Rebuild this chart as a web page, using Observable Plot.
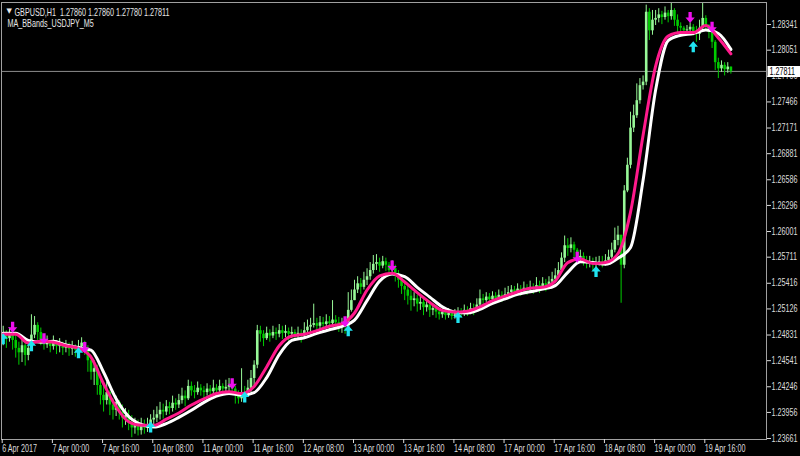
<!DOCTYPE html>
<html><head><meta charset="utf-8">
<script src="https://cdn.jsdelivr.net/npm/d3@7"></script>
<script src="https://cdn.jsdelivr.net/npm/@observablehq/plot@0.6"></script>
<style>
html,body{margin:0;padding:0;background:#000;}
#chart{width:800px;height:456px;overflow:hidden;}
</style></head><body><div id="chart"></div>
<script>
// ---- data (GBPUSD H1, bar 0 = 6 Apr 2017 08:00) ----
const symbolName = "GBPUSD,H1";
const indicatorName = "MA_BBands_USDJPY_M5";
const firstOpen = 1.2480;
const closes = [
1.2483,1.2479,1.2486,1.2477,1.2468,1.2463,1.2471,1.2460,1.2468,1.2483,1.2494,1.2486,1.2477,1.2472,1.2475,1.2470,
1.2474,1.2470,1.2472,1.2468,1.2471,1.2467,1.2469,1.2466,1.2470,1.2474,1.2468,1.2454,1.2441,1.2445,1.2426,1.2415,
1.2409,1.2418,1.2404,1.2398,1.2407,1.2396,1.2389,1.2392,1.2384,1.2378,1.2381,1.2375,1.2380,1.2378,1.2382,1.2387,
1.2389,1.2393,1.2398,1.2396,1.2402,1.2400,1.2406,1.2404,1.2409,1.2414,1.2411,1.2425,1.2420,1.2418,1.2423,1.2420,
1.2418,1.2422,1.2419,1.2423,1.2420,1.2425,1.2422,1.2424,1.2426,1.2422,1.2415,1.2411,1.2418,1.2416,1.2423,1.2434,
1.2449,1.2488,1.2484,1.2479,1.2485,1.2482,1.2486,1.2484,1.2488,1.2485,1.2487,1.2484,1.2486,1.2483,1.2485,1.2482,
1.2488,1.2492,1.2494,1.2496,1.2493,1.2497,1.2495,1.2498,1.2496,1.2500,1.2497,1.2493,1.2494,1.2492,1.2511,1.2522,
1.2534,1.2541,1.2537,1.2545,1.2549,1.2556,1.2563,1.2565,1.2561,1.2566,1.2562,1.2556,1.2558,1.2550,1.2545,1.2538,
1.2534,1.2527,1.2522,1.2524,1.2518,1.2520,1.2514,1.2517,1.2511,1.2513,1.2509,1.2506,1.2509,1.2505,1.2508,1.2504,
1.2506,1.2509,1.2508,1.2511,1.2510,1.2513,1.2512,1.2517,1.2524,1.2522,1.2526,1.2523,1.2527,1.2524,1.2528,1.2526,
1.2529,1.2531,1.2534,1.2531,1.2535,1.2532,1.2536,1.2534,1.2537,1.2535,1.2539,1.2537,1.2541,1.2539,1.2543,1.2546,
1.2550,1.2556,1.2570,1.2584,1.2581,1.2585,1.2579,1.2570,1.2572,1.2567,1.2564,1.2565,1.2562,1.2564,1.2566,1.2565,
1.2567,1.2571,1.2579,1.2590,1.2596,1.2562,1.2646,1.2675,1.2717,1.2731,1.2748,1.2765,1.2769,1.2848,1.2827,1.2839,
1.2841,1.2845,1.2842,1.2847,1.2843,1.2850,1.2839,1.2832,1.2830,1.2827,1.2828,1.2831,1.2826,1.2823,1.2830,1.2841,
1.2833,1.2825,1.2814,1.2791,1.2784,1.2788,1.2783,1.2786,1.27811];
const highs = [
1.2493,1.2488,1.2491,1.2488,1.2483,1.2475,1.2479,1.2477,1.2472,1.2506,1.2504,1.2497,1.2491,1.2482,1.2482,1.2477,
1.2482,1.2477,1.2479,1.2475,1.2477,1.2474,1.2476,1.2472,1.2477,1.2480,1.2476,1.2471,1.2460,1.2454,1.2449,1.2432,
1.2426,1.2430,1.2420,1.2411,1.2414,1.2409,1.2404,1.2400,1.2398,1.2392,1.2389,1.2387,1.2389,1.2387,1.2389,1.2393,
1.2398,1.2402,1.2407,1.2405,1.2409,1.2407,1.2414,1.2411,1.2416,1.2423,1.2420,1.2432,1.2430,1.2426,1.2430,1.2427,
1.2425,1.2428,1.2426,1.2432,1.2427,1.2432,1.2428,1.2432,1.2434,1.2428,1.2425,1.2420,1.2445,1.2425,1.2432,1.2443,
1.2454,1.2494,1.2493,1.2488,1.2492,1.2489,1.2493,1.2491,1.2495,1.2493,1.2494,1.2491,1.2492,1.2489,1.2492,1.2489,
1.2497,1.2500,1.2502,1.2518,1.2502,1.2504,1.2503,1.2506,1.2504,1.2522,1.2505,1.2503,1.2502,1.2500,1.2531,1.2534,
1.2545,1.2549,1.2547,1.2554,1.2558,1.2565,1.2573,1.2574,1.2570,1.2572,1.2570,1.2565,1.2567,1.2562,1.2556,1.2547,
1.2545,1.2539,1.2534,1.2531,1.2528,1.2527,1.2524,1.2522,1.2520,1.2518,1.2517,1.2513,1.2514,1.2512,1.2513,1.2511,
1.2512,1.2514,1.2513,1.2517,1.2515,1.2519,1.2518,1.2524,1.2534,1.2529,1.2531,1.2530,1.2532,1.2531,1.2534,1.2532,
1.2536,1.2538,1.2539,1.2538,1.2541,1.2539,1.2543,1.2540,1.2544,1.2541,1.2548,1.2544,1.2548,1.2546,1.2549,1.2554,
1.2558,1.2565,1.2576,1.2595,1.2592,1.2593,1.2588,1.2581,1.2579,1.2576,1.2572,1.2572,1.2570,1.2571,1.2572,1.2572,
1.2574,1.2579,1.2587,1.2604,1.2606,1.2590,1.2652,1.2683,1.2735,1.2743,1.2767,1.2773,1.2776,1.2856,1.2852,1.2850,
1.2850,1.2852,1.2849,1.2854,1.2850,1.2859,1.2852,1.2845,1.2836,1.2832,1.2833,1.2836,1.2834,1.2832,1.2839,1.2858,
1.2844,1.2834,1.2827,1.2816,1.2796,1.2793,1.2791,1.2791,1.2786];
const lows = [
1.2471,1.2468,1.2475,1.2466,1.2457,1.2449,1.2452,1.2448,1.2454,1.2466,1.2479,1.2477,1.2471,1.2466,1.2468,1.2463,
1.2466,1.2461,1.2463,1.2460,1.2463,1.2459,1.2460,1.2458,1.2462,1.2466,1.2460,1.2441,1.2432,1.2426,1.2415,1.2404,
1.2396,1.2404,1.2392,1.2387,1.2391,1.2387,1.2378,1.2381,1.2375,1.2367,1.2371,1.2369,1.2370,1.2371,1.2373,1.2378,
1.2380,1.2384,1.2387,1.2388,1.2392,1.2393,1.2396,1.2398,1.2400,1.2405,1.2402,1.2409,1.2414,1.2411,1.2415,1.2414,
1.2411,1.2414,1.2413,1.2415,1.2414,1.2416,1.2414,1.2417,1.2418,1.2415,1.2405,1.2405,1.2407,1.2408,1.2414,1.2418,
1.2426,1.2445,1.2475,1.2470,1.2477,1.2475,1.2479,1.2477,1.2480,1.2478,1.2480,1.2476,1.2479,1.2477,1.2478,1.2474,
1.2479,1.2485,1.2486,1.2491,1.2486,1.2488,1.2488,1.2491,1.2489,1.2493,1.2491,1.2486,1.2485,1.2484,1.2488,1.2509,
1.2522,1.2530,1.2529,1.2534,1.2539,1.2545,1.2552,1.2556,1.2554,1.2558,1.2555,1.2549,1.2552,1.2543,1.2536,1.2529,
1.2522,1.2517,1.2510,1.2515,1.2509,1.2511,1.2505,1.2509,1.2503,1.2505,1.2502,1.2500,1.2502,1.2500,1.2502,1.2500,
1.2501,1.2503,1.2502,1.2504,1.2504,1.2506,1.2505,1.2510,1.2513,1.2517,1.2520,1.2518,1.2521,1.2519,1.2522,1.2520,
1.2522,1.2524,1.2527,1.2526,1.2528,1.2527,1.2529,1.2528,1.2530,1.2529,1.2531,1.2530,1.2534,1.2532,1.2536,1.2539,
1.2543,1.2547,1.2554,1.2565,1.2572,1.2576,1.2570,1.2563,1.2565,1.2561,1.2558,1.2559,1.2556,1.2556,1.2561,1.2559,
1.2561,1.2563,1.2569,1.2576,1.2584,1.2519,1.2558,1.2644,1.2671,1.2712,1.2728,1.2744,1.2760,1.2765,1.2816,1.2822,
1.2833,1.2836,1.2834,1.2839,1.2836,1.2839,1.2832,1.2825,1.2824,1.2823,1.2824,1.2825,1.2821,1.2814,1.2816,1.2827,
1.2827,1.2818,1.2807,1.2782,1.2773,1.2780,1.2776,1.2779,1.2778];

// moving averages, read every 4th bar
const maPink = [1.2484,1.2484,1.2474,1.2476,1.2475,1.2471,1.2468,1.2458,1.2428,1.2402,
1.2385,1.2381,1.2381,1.2388,1.2395,1.2404,1.2411,1.2417,1.2419,1.2417,
1.2425,1.2447,1.2471,1.2482,1.2484,1.2488,1.2493,1.2496,1.2508,1.2534,
1.2550,1.2553,1.2543,1.2531,1.2520,1.2511,1.2509,1.2510,1.2515,1.2522,
1.2527,1.2532,1.2536,1.2537,1.2544,1.2565,1.2569,1.2564,1.2565,1.2575,
1.2622,1.2709,1.2787,1.2821,1.2825,1.2825,1.2833,1.2819,1.2801];
const maWhite = [1.2485,1.2485,1.2477,1.2475,1.2476,1.2472,1.2469,1.2466,1.2441,1.2411,
1.2391,1.2382,1.2379,1.2383,1.2390,1.2398,1.2407,1.2414,1.2417,1.2415,
1.2418,1.2435,1.2461,1.2477,1.2480,1.2485,1.2489,1.2493,1.2500,1.2522,
1.2544,1.2552,1.2549,1.2537,1.2526,1.2515,1.2509,1.2508,1.2512,1.2519,
1.2524,1.2529,1.2532,1.2535,1.2539,1.2554,1.2566,1.2565,1.2563,1.2570,
1.2582,1.2658,1.2760,1.2816,1.2822,1.2824,1.2828,1.2824,1.2806];

// signal arrows
const sellBars = [3, 13, 26, 73, 109, 124, 183, 219, 226];
const sellPrices = [1.2492, 1.2479, 1.2469, 1.2428, 1.2498, 1.2561, 1.2571, 1.2842, 1.2831];
const buyBars = [0, 9, 24, 47, 77, 110, 145, 189, 220];
const buyPrices = [1.2479, 1.2471, 1.2463, 1.2379, 1.2413, 1.2488, 1.2503, 1.2555, 1.2809];

// axes
const labelBars = [0,16,32,48,64,80,96,112,128,144,160,176,192,208,224];
const timeLabels = ["6 Apr 2017","7 Apr 00:00","7 Apr 16:00","10 Apr 08:00","11 Apr 00:00","11 Apr 16:00",
"12 Apr 08:00","13 Apr 00:00","13 Apr 16:00","14 Apr 08:00","17 Apr 00:00","17 Apr 16:00","18 Apr 08:00",
"19 Apr 00:00","19 Apr 16:00"];
const priceTicks = [1.28341,1.28051,1.27756,1.27466,1.27171,1.26881,1.26586,1.26296,1.26001,1.25711,
1.25416,1.25126,1.24831,1.24541,1.24246,1.23956,1.23661];

// ---- build ----
const candles = closes.map((c, i) => ({
  i, open: i ? closes[i - 1] : firstOpen, close: c, high: highs[i], low: lows[i]
}));
const last = candles[candles.length - 1];
const maStep = 4;
const pinkData = maPink.map((v, k) => ({i: k * maStep, v}));
const whiteData = maWhite.map((v, k) => ({i: k * maStep, v}));
const sells = sellBars.map((b, k) => ({i: b, p: sellPrices[k]}));
const buys = buyBars.map((b, k) => ({i: b, p: buyPrices[k]}));
const f5 = d3.format(".5f");

const BULL = "#98f898", BEAR = "#00cc00";
const FONT = "'Liberation Sans',Arial,sans-serif";
const TXT = "#dcdcdc";

const arrowDown = {draw(ctx, size) {
  const r = Math.sqrt(size / Math.PI);
  ctx.moveTo(-0.3*r, -r); ctx.lineTo(0.3*r, -r); ctx.lineTo(0.3*r, 0);
  ctx.lineTo(0.85*r, 0); ctx.lineTo(0, r); ctx.lineTo(-0.85*r, 0); ctx.lineTo(-0.3*r, 0); ctx.closePath();
}};
const arrowUp = {draw(ctx, size) {
  const r = Math.sqrt(size / Math.PI);
  ctx.moveTo(-0.3*r, r); ctx.lineTo(0.3*r, r); ctx.lineTo(0.3*r, 0);
  ctx.lineTo(0.85*r, 0); ctx.lineTo(0, -r); ctx.lineTo(-0.85*r, 0); ctx.lineTo(-0.3*r, 0); ctx.closePath();
}};
const priceBox = {draw(ctx) { ctx.rect(-16, -5.5, 33, 11); }};

const chart = Plot.plot({
  width: 800, height: 456,
  marginLeft: 1, marginRight: 34, marginTop: 2, marginBottom: 17,
  style: {background: "#000", color: TXT, fontFamily: FONT, fontSize: "10px"},
  x: {domain: [-0.542, 243.35], axis: null},
  y: {domain: [1.2365, 1.2859], axis: null},
  marks: [
    Plot.ruleY([last.close], {stroke: "#8c8c8c", strokeWidth: 1}),
    Plot.ruleX(candles, {x: "i", y1: "low", y2: "high", stroke: d => d.close >= d.open ? BULL : BEAR, strokeWidth: 1, clip: true}),
    Plot.ruleX(candles, {x: "i", y1: "open", y2: "close", stroke: d => d.close >= d.open ? BULL : BEAR, strokeWidth: 2.6, clip: true}),
    Plot.line(whiteData, {x: "i", y: "v", stroke: "#ffffff", strokeWidth: 3, curve: "monotone-x", clip: true}),
    Plot.line(pinkData, {x: "i", y: "v", stroke: "#ff1a8c", strokeWidth: 3, curve: "monotone-x", clip: true}),
    Plot.dot(sells, {x: "i", y: "p", symbol: arrowDown, r: 5.5, fill: "#ee10ee", stroke: null, clip: true}),
    Plot.dot(buys, {x: "i", y: "p", symbol: arrowUp, r: 5.5, fill: "#20e4f0", stroke: null, clip: true}),
    Plot.frame({stroke: "#a0a0a0"}),
    Plot.axisY({anchor: "right", ticks: priceTicks, tickFormat: f5, tickSize: 4, tickPadding: 1, color: TXT, fontSize: 10, label: null}),
    Plot.axisX({anchor: "bottom", ticks: labelBars, tickFormat: d => timeLabels[labelBars.indexOf(d)], textAnchor: "start", dx: -1, tickSize: 4, tickPadding: 1, color: TXT, fontSize: 10, label: null}),
    Plot.dot([last.close], {y: d => d, frameAnchor: "right", dx: 17, symbol: priceBox, fill: "#ffffff", stroke: null}),
    Plot.text([last.close], {y: d => d, frameAnchor: "right", dx: 3, textAnchor: "start", text: d => f5(d), fill: "#000", fontSize: 10}),
    Plot.text(["\u25BC"], {frameAnchor: "top-left", dx: 5, dy: 6, fill: "#e8e8e8", fontSize: 7, fontFamily: "DejaVu Sans"}),
    Plot.text([`${symbolName}  ${f5(last.open)} ${f5(last.high)} ${f5(last.low)} ${f5(last.close)}`],
      {frameAnchor: "top-left", dx: 13, dy: 6, textAnchor: "start", fill: "#e8e8e8", fontSize: 10}),
    Plot.text([indicatorName], {frameAnchor: "top-left", dx: 6, dy: 17, textAnchor: "start", fill: "#e8e8e8", fontSize: 10})
  ]
});
document.getElementById("chart").append(chart);
// condense the labels horizontally about their anchor, like the terminal's narrow font
const SQUEEZE = 0.72;
chart.querySelectorAll("text").forEach(t => {
  const b = t.getBBox();
  if (b.width <= 10) return;
  const anchor = getComputedStyle(t).textAnchor;
  const ax = anchor === "end" ? b.x + b.width : anchor === "middle" ? b.x + b.width / 2 : b.x;
  const prev = t.getAttribute("transform") || "";
  t.setAttribute("transform", `${prev} translate(${ax},0) scale(${SQUEEZE},1) translate(${-ax},0)`.trim());
});
</script>
</body></html>
